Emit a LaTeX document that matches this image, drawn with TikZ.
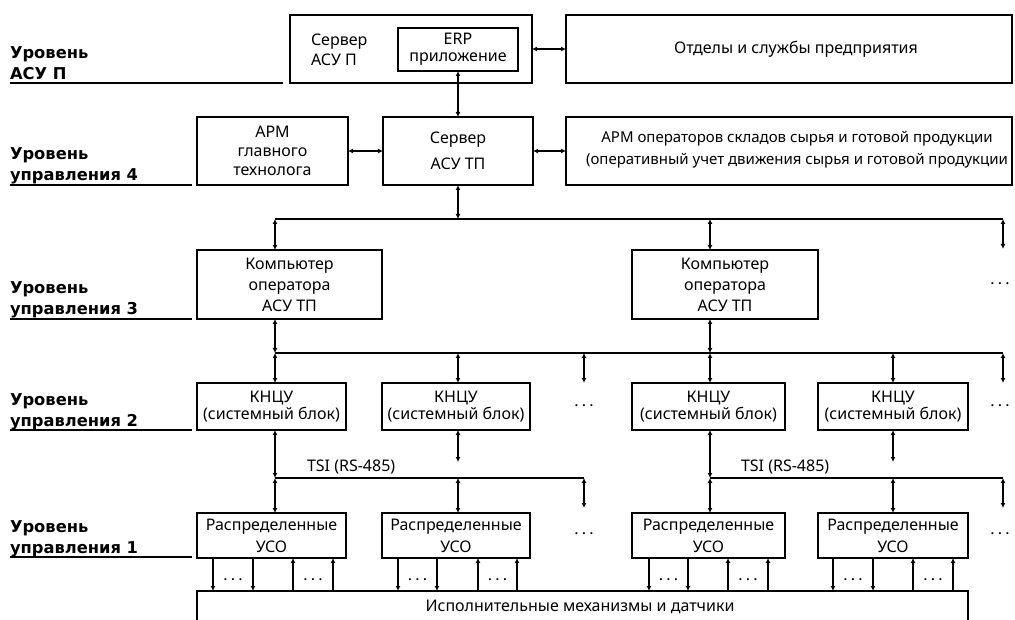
\documentclass[tikz,border=0pt]{standalone}
\usepackage{fontspec}
\setmainfont{Noto Sans}
\newfontfamily\lvlfont{DejaVu Sans}
\usetikzlibrary{arrows.meta}
\newcommand\mydots{.\kern3.3pt.\kern3.3pt.}
\begin{document}
\begin{tikzpicture}[x=1pt,y=-1pt,
  txt/.style={inner sep=0pt, outer sep=0pt, font=\fontsize{16}{20}\selectfont},
  box/.style={draw, line width=2.6pt, inner sep=0pt, outer sep=0pt, align=center, font=\fontsize{16}{20}\selectfont},
  conn/.style={line width=1.8pt, {Latex[length=5pt,width=5pt]}-{Latex[length=5pt,width=5pt]}},
  one/.style={line width=1.8pt, -{Latex[length=5pt,width=5pt]}},
  bus/.style={line width=2pt},
  lvl/.style={anchor=south west, align=left, inner sep=0pt, outer sep=0pt, text depth=0pt, font=\lvlfont\bfseries\fontsize{16.3}{21}\selectfont},
  uline/.style={line width=2.6pt},
  dotsn/.style={inner sep=0pt, font=\fontsize{16}{18}\selectfont}
]
\useasboundingbox (0,0) rectangle (1015,620);

% ---- level labels
\node[lvl] (l5) at (10,79.5) {Уровень\\АСУ П};
\draw[uline] (10,83) -- (283,83);
\node[lvl] (l4) at (10,181) {Уровень\\управления 4};
\draw[uline] (10,185) -- (192,185);
\node[lvl] (l3) at (10,315) {Уровень\\управления 3};
\draw[uline] (10,319) -- (192,319);
\node[lvl] (l2) at (10,426) {Уровень\\управления 2};
\draw[uline] (10,430) -- (192,430);
\node[lvl] (l1) at (10,553) {Уровень\\управления 1};
\draw[uline] (10,557) -- (192,557);

% ---- top level
\node[box, minimum width=242pt, minimum height=68pt] (srvP) at (411,49) {};
\node[txt, anchor=west, align=left] (srvPt) at (311,50) {Сервер\\АСУ П};
\node[box, minimum width=120pt, minimum height=43pt, font=\fontsize{16}{17}\selectfont] (erp) at (458,49.5) {ERP\\приложение};
\node[box, minimum width=446pt, minimum height=68pt] (otd) at (789,49) {};
\node[txt] (otdt) at (796,49) {Отделы и службы предприятия};

% ---- level 4
\node[box, minimum width=151pt, minimum height=68pt, font=\fontsize{16}{19}\selectfont] (apmG) at (272.5,151) {АРМ\\главного\\технолога};
\node[box, minimum width=150pt, minimum height=68pt, font=\fontsize{16}{26}\selectfont] (srvTP) at (458,151) {Сервер\\АСУ ТП};
\node[box, minimum width=446pt, minimum height=68pt] (apmO) at (789,151) {};
\node[txt, align=center, font=\fontsize{15}{22.5}\selectfont] (apmOt) at (797,150) {АРМ операторов складов сырья и готовой продукции\\(оперативный учет движения сырья и готовой продукции};

% ---- level 3
\node[box, minimum width=185pt, minimum height=69pt, font=\fontsize{16}{21}\selectfont] (comp1) at (289.5,284.5) {Компьютер\\оператора\\АСУ ТП};
\node[box, minimum width=186pt, minimum height=69pt, font=\fontsize{16}{21}\selectfont] (comp2) at (725,284.5) {Компьютер\\оператора\\АСУ ТП};

% ---- level 2
\tikzset{kn/.style={box, minimum height=47pt, font=\fontsize{16}{17.5}\selectfont}}
\node[kn, minimum width=149pt] (k1) at (271.5,406.5) {КНЦУ\\(системный блок)};
\node[kn, minimum width=148pt] (k2) at (456,406.5) {КНЦУ\\(системный блок)};
\node[kn, minimum width=153pt] (k3) at (708.5,406.5) {КНЦУ\\(системный блок)};
\node[kn, minimum width=150pt] (k4) at (893,406.5) {КНЦУ\\(системный блок)};

% ---- level 1
\tikzset{us/.style={box, minimum height=45pt, font=\fontsize{16}{22}\selectfont}}
\node[us, minimum width=149pt] (uso1) at (271.5,535.5) {Распределенные\\УСО};
\node[us, minimum width=148pt] (uso2) at (456,535.5) {Распределенные\\УСО};
\node[us, minimum width=153pt] (uso3) at (708.5,535.5) {Распределенные\\УСО};
\node[us, minimum width=150pt] (uso4) at (893,535.5) {Распределенные\\УСО};

% ---- actuators
\node[box, minimum width=771pt, minimum height=40pt, anchor=north west] (act) at (197,591) {};
\node[txt] (actt) at (580,607) {Исполнительные механизмы и датчики};

% ---- bus coordinates
\coordinate (b4L) at (275,219);
\coordinate (b4c) at (458,219);
\coordinate (b4c2) at (710,219);
\coordinate (b4R) at (1003,219);
\coordinate (b4e) at (1003,249);
\coordinate (b3L) at (275,353);
\coordinate (b3k2) at (458,353);
\coordinate (b3f) at (584,353);
\coordinate (b3fe) at (584,383);
\coordinate (b3c2) at (710,353);
\coordinate (b3k4) at (893,353);
\coordinate (b3R) at (1003,353);
\coordinate (b3Re) at (1003,383);
\coordinate (t1L) at (275,478);
\coordinate (t1m) at (458,478);
\coordinate (t1R) at (584,478);
\coordinate (t1Re) at (584,508);
\coordinate (t2L) at (710,478);
\coordinate (t2m) at (893,478);
\coordinate (t2R) at (1003,478);
\coordinate (t2Re) at (1003,508);
\coordinate (k2e) at (458,462);
\coordinate (k4e) at (893,462);

% ---- buses
\draw[bus] (b4L) -- (b4R);
\draw[bus] (b3L) -- (b3R);
\draw[bus] (t1L) -- (t1R);
\draw[bus] (t2L) -- (t2R);

% ---- connectors
\draw[conn] (srvP.east) -- (otd.west);
\draw[conn] (erp.south) -- (erp.south |- srvTP.north);
\draw[conn] (apmG.east) -- (srvTP.west);
\draw[conn] (srvTP.east) -- (apmO.west);
\draw[conn] (srvTP.south) -- (b4c);
\draw[conn] (b4L) -- (b4L |- comp1.north);
\draw[conn] (b4c2) -- (b4c2 |- comp2.north);
\draw[conn] (b4R) -- (b4e);
\draw[conn] (comp1.south -| b3L) -- (b3L);
\draw[conn] (comp2.south -| b3c2) -- (b3c2);
\draw[conn] (b3L) -- (b3L |- k1.north);
\draw[conn] (b3k2) -- (b3k2 |- k2.north);
\draw[conn] (b3f) -- (b3fe);
\draw[conn] (b3c2) -- (b3c2 |- k3.north);
\draw[conn] (b3k4) -- (b3k4 |- k4.north);
\draw[conn] (b3R) -- (b3Re);
\draw[conn] (k1.south -| t1L) -- (t1L);
\draw[conn] (k2.south -| k2e) -- (k2e);
\draw[conn] (k3.south -| t2L) -- (t2L);
\draw[conn] (k4.south -| k4e) -- (k4e);
\draw[conn] (t1L) -- (t1L |- uso1.north);
\draw[conn] (t1m) -- (t1m |- uso2.north);
\draw[conn] (t1R) -- (t1Re);
\draw[conn] (t2L) -- (t2L |- uso3.north);
\draw[conn] (t2m) -- (t2m |- uso4.north);
\draw[conn] (t2R) -- (t2Re);

\node[txt, anchor=west] (tsi1) at (307,467) {TSI (RS-485)};
\node[txt, anchor=west] (tsi2) at (741,467) {TSI (RS-485)};

% ---- dots
\node[dotsn] (d1) at (1000,284) {\mydots};
\node[dotsn] (d2) at (584,406) {\mydots};
\node[dotsn] (d3) at (1000,406) {\mydots};
\node[dotsn] (d4) at (584,534) {\mydots};
\node[dotsn] (d5) at (1000,534) {\mydots};

% ---- USO to actuators
\foreach \u/\xa/\xb/\xc/\xd in {uso1/213/253/293/333, uso2/398/437/478/517, uso3/649/688/728/768, uso4/833/873/913/953}{
  \coordinate (\u a) at (\xa,558);
  \coordinate (\u b) at (\xb,558);
  \coordinate (\u c) at (\xc,558);
  \coordinate (\u d) at (\xd,558);
  \draw[one] (\u a) -- (\u a |- act.north);
  \draw[one] (\u b) -- (\u b |- act.north);
  \draw[one] (\u c |- act.north) -- (\u c);
  \draw[one] (\u d |- act.north) -- (\u d);
  \node[dotsn] at ({(\xa+\xb)/2},580) {\mydots};
  \node[dotsn] at ({(\xc+\xd)/2},580) {\mydots};
}
\end{tikzpicture}
\end{document}
